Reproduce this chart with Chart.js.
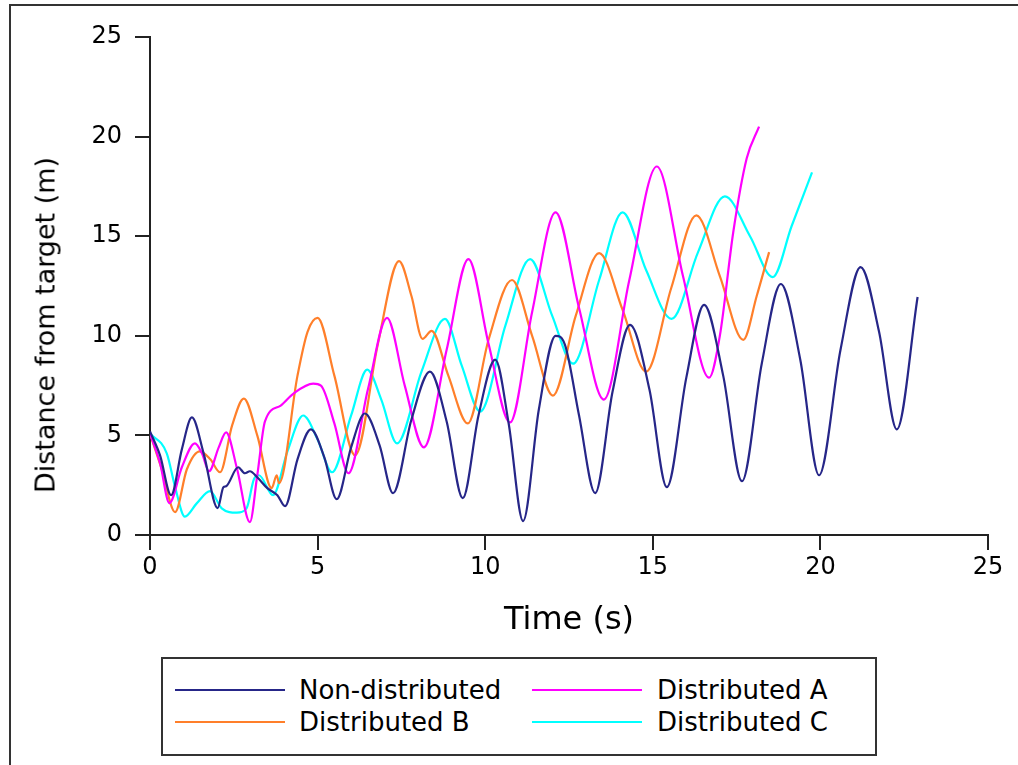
<!DOCTYPE html>
<html>
<head>
<meta charset="utf-8">
<script src="https://cdn.jsdelivr.net/npm/chart.js@4.4.1/dist/chart.umd.min.js"></script>
<style>
  body { margin: 0; background: #fff; font-family: "DejaVu Sans", sans-serif; }
  #wrap { position: relative; width: 1018px; height: 765px; overflow: hidden; background: #fff; }
  #frame { position: absolute; left: 9px; top: 4px; width: 1020px; height: 770px;
           border-left: 2px solid #333; border-top: 2px solid #333; }
  #chart { position: absolute; left: 0; top: 0; }
  #ytitle { position: absolute; left: 45px; top: 325px; transform: translate(-50%, -50%) rotate(-90deg);
            font-size: 27px; color: #000; white-space: nowrap; }
  #legend { position: absolute; left: 161px; top: 657px; width: 712px; height: 95px;
            border: 2px solid #333; }
  .item { position: absolute; font-size: 26px; color: #000; line-height: 30px; white-space: nowrap; }
  .swatch { position: absolute; height: 2px; width: 110px; }
</style>
</head>
<body>
<div id="wrap">
  <div id="frame"></div>
  <canvas id="chart" width="1018" height="650"></canvas>
  <div id="ytitle">Distance from target (m)</div>
  <div id="legend"></div>
</div>
<script>
// time (s) and distance (m), one pair of arrays per run
const ndT = [0, 0.3, 0.63, 0.95, 1.25, 1.6, 2.02, 2.19, 2.27, 2.63, 2.83, 2.98, 3.2, 3.5, 3.8, 4.03,
  4.4, 4.8, 5.2, 5.57, 6.0, 6.41, 6.85, 7.25, 7.8, 8.35, 8.85, 9.33, 9.8, 10.3, 10.7, 11.13,
  11.6, 12.1, 12.38, 12.8, 13.28, 13.8, 14.32, 14.9, 15.42, 16.0, 16.53, 17.1, 17.66, 18.25,
  18.82, 19.4, 19.96, 20.6, 21.2, 21.75, 22.28, 22.9];
const ndV = [5.2, 4.0, 2.0, 4.3, 5.9, 4.1, 1.35, 2.4, 2.45, 3.4, 3.1, 3.2, 2.9, 2.35, 2.0, 1.45,
  3.8, 5.3, 3.9, 1.8, 4.4, 6.1, 4.5, 2.1, 5.8, 8.2, 5.7, 1.85, 6.0, 8.8, 5.6, 0.7,
  6.3, 10.0, 9.55, 6.0, 2.1, 7.2, 10.55, 7.3, 2.4, 7.9, 11.55, 8.0, 2.7, 8.6,
  12.6, 8.8, 3.0, 9.3, 13.45, 10.2, 5.3, 11.95];

const aT = [0, 0.3, 0.58, 0.95, 1.34, 1.55, 1.76, 2.05, 2.27, 2.6, 2.98, 3.2, 3.43, 3.9, 4.28,
  4.87, 5.1, 5.5, 5.92, 6.5, 7.07, 7.6, 8.17, 8.85, 9.5, 10.1, 10.74, 11.4, 12.1, 12.8, 13.54,
  14.3, 15.12, 15.9, 16.68, 17.0, 17.4, 17.8, 18.17];
const aV = [5.1, 3.6, 1.6, 3.4, 4.6, 4.1, 3.2, 4.4, 5.15, 3.3, 0.65, 3.0, 5.7, 6.5, 7.1,
  7.6, 7.5, 5.6, 3.1, 7.3, 10.9, 7.5, 4.4, 9.3, 13.85, 9.6, 5.65, 11.2, 16.2, 11.4, 6.8,
  12.8, 18.5, 13.0, 7.9, 10.0, 15.2, 18.9, 20.5];

const bT = [0, 0.35, 0.75, 1.1, 1.49, 1.8, 2.09, 2.45, 2.8, 3.2, 3.63, 3.78, 3.85, 4.4, 4.7,
  5.0, 5.5, 6.12, 6.8, 7.43, 7.8, 8.13, 8.4, 8.9, 9.48, 10.1, 10.8, 11.4, 12.02, 12.7, 13.4,
  14.1, 14.8, 15.55, 16.3, 17.0, 17.7, 18.1, 18.47];
const bV = [5.1, 3.3, 1.15, 3.3, 4.2, 3.8, 3.15, 5.5, 6.85, 5.0, 2.35, 3.0, 2.6, 8.0, 10.2,
  10.9, 8.0, 4.0, 9.6, 13.75, 12.0, 9.85, 10.25, 8.0, 5.6, 9.8, 12.8, 10.0, 7.0, 11.0, 14.15,
  11.3, 8.2, 12.4, 16.05, 13.0, 9.8, 12.0, 14.2];

const cT = [0, 0.5, 0.75, 1.04, 1.4, 1.79, 2.14, 2.59, 2.88, 3.1, 3.25, 3.67, 4.1, 4.57, 5.0,
  5.43, 6.0, 6.48, 6.9, 7.37, 8.1, 8.8, 9.3, 9.85, 10.6, 11.34, 12.0, 12.62, 13.4, 14.1, 14.8,
  15.56, 16.35, 17.15, 17.9, 18.58, 19.14, 19.75];
const cV = [5.1, 4.1, 2.4, 0.92, 1.6, 2.2, 1.34, 1.12, 1.34, 2.8, 3.0, 2.0, 4.2, 6.0, 4.8,
  3.15, 6.0, 8.3, 6.8, 4.6, 8.2, 10.85, 8.5, 6.2, 10.5, 13.85, 11.0, 8.6, 12.8, 16.2, 13.3,
  10.85, 14.2, 17.0, 15.0, 12.95, 15.5, 18.2];

const seriesNames = ["Non-distributed", "Distributed A", "Distributed B", "Distributed C"];
const seriesColors = ["#262688", "#ff00ff", "#ff7f2a", "#00ffff"];

function toPoints(ts, vs) {
  return ts.map((t, i) => ({ x: t, y: vs[i] }));
}

const allData = [toPoints(ndT, ndV), toPoints(aT, aV), toPoints(bT, bV), toPoints(cT, cV)];

const axisColor = "#222";
const tickFont = { family: "DejaVu Sans", size: 24 };

new Chart(document.getElementById("chart"), {
  type: "line",
  data: {
    datasets: allData.map((pts, i) => ({
      label: seriesNames[i],
      data: pts,
      borderColor: seriesColors[i],
      borderWidth: 2.2,
      pointRadius: 0,
      fill: false,
      cubicInterpolationMode: "monotone",
    })),
  },
  options: {
    responsive: false,
    animation: false,
    layout: { padding: { left: 0, top: 37, right: 30, bottom: 0 } },
    plugins: { legend: { display: false }, tooltip: { enabled: false } },
    scales: {
      x: {
        type: "linear",
        min: 0,
        max: 25,
        ticks: { stepSize: 5, color: "#000", font: tickFont, padding: 3, maxRotation: 0 },
        grid: { drawOnChartArea: false, drawTicks: true, tickLength: 15, color: axisColor, lineWidth: 2 },
        border: { display: true, color: axisColor, width: 2 },
        title: { display: true, text: "Time (s)", color: "#000",
                 font: { family: "DejaVu Sans", size: 32 }, padding: { top: 4, bottom: 10 } },
        afterFit: (scale) => { scale.height = 115; },
      },
      y: {
        min: 0,
        max: 25,
        ticks: { stepSize: 5, color: "#000", font: tickFont, padding: 13 },
        grid: { drawOnChartArea: false, drawTicks: true, tickLength: 15, color: axisColor, lineWidth: 2 },
        border: { display: true, color: axisColor, width: 2 },
        afterFit: (scale) => { scale.width = 150; },
      },
    },
  },
});

// legend box, 2 x 2 like the original
const legend = document.getElementById("legend");
const slots = [
  { line: 12, text: 136, y: 31 },
  { line: 369, text: 494, y: 31 },
  { line: 12, text: 136, y: 63 },
  { line: 369, text: 494, y: 63 },
];
seriesNames.forEach((name, i) => {
  const s = slots[i];
  const sw = document.createElement("div");
  sw.className = "swatch";
  sw.style.left = s.line + "px";
  sw.style.top = s.y - 1 + "px";
  sw.style.background = seriesColors[i];
  legend.appendChild(sw);
  const tx = document.createElement("div");
  tx.className = "item";
  tx.style.left = s.text + "px";
  tx.style.top = s.y - 15 + "px";
  tx.textContent = name;
  legend.appendChild(tx);
});
</script>
</body>
</html>
